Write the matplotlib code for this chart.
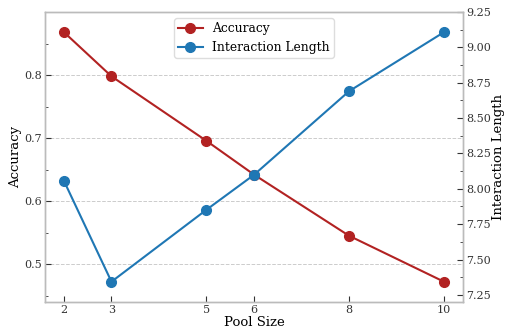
import matplotlib
matplotlib.use("Agg")
import matplotlib.pyplot as plt
from matplotlib.ticker import AutoMinorLocator

pool_size = [2, 3, 5, 6, 8, 10]
accuracy = [0.868, 0.798, 0.6955, 0.642, 0.545, 0.472]
interaction_length = [8.056, 7.343, 7.852, 8.099, 8.69, 9.108]

plt.rcParams['font.family'] = ['DejaVu Serif']

fig, ax = plt.subplots(figsize=(5.05, 3.34), dpi=100)
fig.subplots_adjust(left=0.089, right=0.917, top=0.964, bottom=0.096)

red = '#b22222'
blue = '#1f77b4'
l1, = ax.plot(pool_size, accuracy, '-o', color=red, lw=1.5, ms=7, label='Accuracy', zorder=3)
ax2 = ax.twinx()
l2, = ax2.plot(pool_size, interaction_length, '-o', color=blue, lw=1.5, ms=7, label='Interaction Length', zorder=3)

ax.set_xlim(1.6, 10.4)
ax.set_ylim(0.44, 0.90)
ax2.set_ylim(7.20, 9.25)
ax.set_xticks(pool_size)
ax.set_yticks([0.5, 0.6, 0.7, 0.8])
ax2.set_yticks([7.25, 7.5, 7.75, 8.0, 8.25, 8.5, 8.75, 9.0, 9.25])
ax2.set_yticklabels(['7.25', '7.50', '7.75', '8.00', '8.25', '8.50', '8.75', '9.00', '9.25'])
ax.yaxis.set_minor_locator(AutoMinorLocator(2))
ax2.yaxis.set_minor_locator(AutoMinorLocator(2))

ax.grid(axis='y', ls='--', color='#cccccc', lw=0.7)
ax.set_axisbelow(True)

for a in (ax, ax2):
    for s in a.spines.values():
        s.set_color('#bbbbbb')
        s.set_linewidth(1.0)
    a.tick_params(axis='both', which='major', direction='in', length=4, labelsize=8, colors='#333333', pad=2)
    a.tick_params(axis='both', which='minor', direction='in', length=2, colors='#333333')

ax.set_xlabel('Pool Size', fontsize=9.5, labelpad=1)
ax.set_ylabel('Accuracy', fontsize=9.5, labelpad=2)
ax2.set_ylabel('Interaction Length', fontsize=9.5, labelpad=1)

ax.legend(handles=[l1, l2], loc='upper center', fontsize=8.8, framealpha=1, edgecolor='#dddddd',
          bbox_to_anchor=(0.5, 1.0), borderpad=0.3)

fig.savefig('out.png', dpi=100)
